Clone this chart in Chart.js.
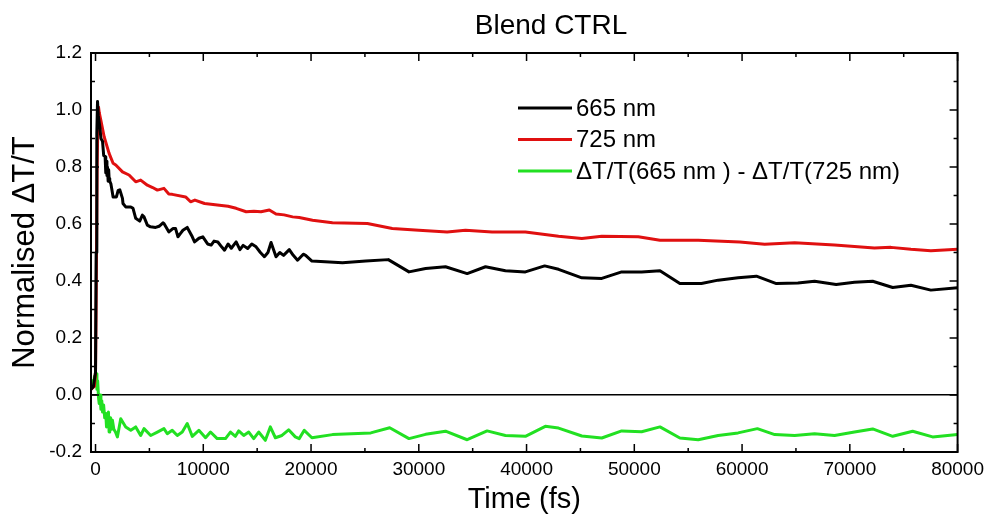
<!DOCTYPE html>
<html>
<head>
<meta charset="utf-8">
<script src="https://cdn.jsdelivr.net/npm/chart.js@4/dist/chart.umd.min.js"></script>
<style>
  html, body { margin: 0; padding: 0; background: #fff; }
  #wrap { width: 990px; height: 524px; }
</style>
</head>
<body>
<div id="wrap"><canvas id="kinetics"></canvas></div>
<script>
// [time (fs), normalised dT/T]
const trace665 = [
  [-420, 0.02], [-200, 0.03], [0, 0.08], [60, 0.5], [120, 0.92], [185, 1.03], [260, 0.98],
  [400, 0.94], [500, 0.90], [650, 0.89], [760, 0.84], [890, 0.836], [950, 0.78], [1000, 0.82],
  [1060, 0.77], [1110, 0.80], [1170, 0.75], [1220, 0.79], [1260, 0.76], [1320, 0.75],
  [1420, 0.742], [1520, 0.72], [1630, 0.695], [1720, 0.695], [1940, 0.695], [2100, 0.718],
  [2250, 0.72], [2500, 0.69], [2550, 0.672], [2800, 0.66], [3020, 0.66], [3270, 0.66],
  [3480, 0.655], [3730, 0.62], [4100, 0.61], [4350, 0.631], [4500, 0.625], [4810, 0.596],
  [5100, 0.59], [5580, 0.588], [5900, 0.592], [6260, 0.604], [6350, 0.602], [6810, 0.572],
  [7180, 0.584], [7430, 0.584], [7650, 0.555], [7890, 0.567], [8110, 0.578], [8510, 0.588],
  [8570, 0.588], [8980, 0.555], [9190, 0.537], [9600, 0.55], [9960, 0.555], [10400, 0.53],
  [10730, 0.526], [11000, 0.54], [11350, 0.537], [11700, 0.52], [11970, 0.508], [12300, 0.53],
  [12600, 0.515], [13050, 0.537], [13400, 0.51], [13700, 0.525], [14120, 0.514], [14500, 0.53],
  [14900, 0.52], [15300, 0.5], [15670, 0.485], [16000, 0.5], [16290, 0.535], [16750, 0.485],
  [17100, 0.5], [17450, 0.49], [17980, 0.51], [18350, 0.49], [18750, 0.473], [19280, 0.494],
  [19500, 0.49], [20080, 0.47], [22920, 0.464], [25080, 0.47], [27170, 0.475], [29090, 0.432],
  [30630, 0.444], [32480, 0.45], [34490, 0.426], [36190, 0.45], [38040, 0.436], [39890, 0.432],
  [41680, 0.453], [42970, 0.441], [45130, 0.411], [46980, 0.409], [48830, 0.432], [50680, 0.432],
  [52380, 0.436], [54230, 0.391], [56230, 0.391], [57780, 0.403], [59630, 0.411], [61330, 0.417],
  [63180, 0.391], [65180, 0.393], [66730, 0.399], [68730, 0.388], [70430, 0.396], [72120, 0.399],
  [73980, 0.377], [75670, 0.385], [77520, 0.368], [80000, 0.376]
];
const trace725 = [
  [-420, 0.02], [-100, 0.03], [0, 0.08], [60, 0.35], [150, 0.8], [230, 0.98], [280, 1.01],
  [350, 0.99], [490, 0.965], [800, 0.906], [1260, 0.848], [1630, 0.813], [1880, 0.807],
  [2500, 0.783], [3110, 0.772], [3730, 0.748], [4190, 0.754], [4810, 0.736], [5300, 0.728],
  [5740, 0.719], [6350, 0.725], [6800, 0.705], [7120, 0.704], [8360, 0.695], [8820, 0.678],
  [9220, 0.684], [10120, 0.672], [11500, 0.666], [12300, 0.662], [13050, 0.655], [13980, 0.643],
  [14700, 0.645], [15360, 0.643], [16130, 0.649], [16750, 0.635], [17500, 0.632], [18290, 0.625],
  [18900, 0.623], [20140, 0.613], [21990, 0.604], [25230, 0.602], [27540, 0.584], [30010, 0.578],
  [32630, 0.572], [34330, 0.578], [36800, 0.572], [39890, 0.572], [42970, 0.557], [45130, 0.549],
  [46980, 0.557], [50370, 0.555], [52380, 0.543], [55930, 0.543], [59790, 0.537], [62100, 0.529],
  [64880, 0.534], [68580, 0.526], [72280, 0.516], [73820, 0.518], [75670, 0.511], [77520, 0.506],
  [80000, 0.511]
];
const traceDiff = [
  [-420, 0.02], [-300, 0.05], [-200, 0.03], [-100, 0.065], [0, 0.04], [60, 0.075], [130, 0.02],
  [200, 0.05], [280, -0.01], [340, -0.03], [420, 0.0], [500, -0.05], [580, -0.02], [650, -0.06],
  [750, -0.035], [850, -0.08], [950, -0.065], [1020, -0.112], [1100, -0.07], [1200, -0.06],
  [1260, -0.13], [1320, -0.124], [1400, -0.08], [1500, -0.12], [1570, -0.089], [1700, -0.12],
  [1850, -0.13], [2030, -0.147], [2340, -0.083], [2800, -0.112], [3270, -0.124], [3730, -0.112],
  [4190, -0.142], [4500, -0.118], [5120, -0.142], [5740, -0.13], [6350, -0.118], [6660, -0.136],
  [7120, -0.124], [7590, -0.142], [8050, -0.13], [8510, -0.1], [8980, -0.145], [9590, -0.124],
  [10210, -0.15], [10670, -0.13], [11290, -0.153], [12060, -0.153], [12520, -0.13], [12980, -0.145],
  [13290, -0.126], [13750, -0.142], [14220, -0.13], [14680, -0.153], [15140, -0.13], [15760, -0.159],
  [16220, -0.112], [16690, -0.15], [17300, -0.142], [17920, -0.122], [18540, -0.147], [18900, -0.153],
  [19370, -0.124], [20080, -0.15], [21990, -0.139], [25540, -0.133], [27300, -0.115], [29090, -0.153],
  [30630, -0.138], [32480, -0.127], [34490, -0.157], [36340, -0.126], [38040, -0.142], [39890, -0.145],
  [41740, -0.11], [42970, -0.116], [45130, -0.144], [46980, -0.151], [48830, -0.126], [50680, -0.129],
  [52380, -0.112], [54230, -0.151], [55930, -0.157], [57780, -0.142], [59630, -0.133], [61420, -0.118],
  [63030, -0.139], [64880, -0.142], [66730, -0.136], [68580, -0.142], [70430, -0.13], [72120, -0.119],
  [73980, -0.145], [75830, -0.127], [77680, -0.147], [80000, -0.139]
];

const seriesNames = ['665 nm', '725 nm', '\u0394T/T(665 nm ) - \u0394T/T(725 nm)'];
const xTickValues = [0, 10000, 20000, 30000, 40000, 50000, 60000, 70000, 80000];
const yTickValues = [-0.2, 0, 0.2, 0.4, 0.6, 0.8, 1.0, 1.2];
const chartTitle = 'Blend CTRL';

const FONT = "Arial, 'Liberation Sans', sans-serif";
Chart.defaults.font.family = FONT;
Chart.defaults.color = '#000';

const toXY = arr => arr.map(p => ({x: p[0], y: p[1]}));

// frame, inward ticks, title and in-plot legend
const decor = {
    id: 'decor',
    afterDatasetsDraw(chart) {
        const {ctx, chartArea: a, scales: {x, y}} = chart;
        ctx.save();
        ctx.strokeStyle = '#000';
        ctx.lineWidth = 1.5;
        ctx.beginPath();
        for (let i = 0; i <= 16; i++) {
            const px = x.getPixelForValue(i * 5000);
            const len = i % 2 === 0 ? 8 : 4;
            ctx.moveTo(px, a.bottom); ctx.lineTo(px, a.bottom - len);
            ctx.moveTo(px, a.top); ctx.lineTo(px, a.top + len);
        }
        for (let i = -2; i <= 12; i++) {
            const py = y.getPixelForValue(i / 10);
            const len = i % 2 === 0 ? 8 : 4;
            ctx.moveTo(a.left, py); ctx.lineTo(a.left + len, py);
            ctx.moveTo(a.right, py); ctx.lineTo(a.right - len, py);
        }
        ctx.stroke();
        ctx.lineWidth = 2;
        ctx.strokeRect(a.left, a.top, a.right - a.left, a.bottom - a.top);

        ctx.fillStyle = '#000';
        ctx.font = '28px ' + FONT;
        ctx.textAlign = 'center';
        ctx.textBaseline = 'middle';
        ctx.fillText(chartTitle, 551, 26);

        ctx.font = '24px ' + FONT;
        ctx.textAlign = 'left';
        chart.data.datasets.forEach((ds, i) => {
            const ly = 108 + i * 31.5;
            ctx.strokeStyle = ds.borderColor;
            ctx.lineWidth = 3;
            ctx.beginPath();
            ctx.moveTo(518, ly); ctx.lineTo(572, ly);
            ctx.stroke();
            ctx.fillText(ds.label, 576, ly + 1);
        });
        ctx.restore();
    }
};

new Chart(document.getElementById('kinetics').getContext('2d'), {
    type: 'line',
    data: {
        datasets: [
            {label: seriesNames[0], data: toXY(trace665), borderColor: '#000000'},
            {label: seriesNames[1], data: toXY(trace725), borderColor: '#e01010'},
            {label: seriesNames[2], data: toXY(traceDiff), borderColor: '#22e022'},
        ],
    },
    options: {
        responsive: true,
        maintainAspectRatio: false,
        animation: false,
        events: [],
        elements: {
            point: {radius: 0},
            line: {borderWidth: 3, tension: 0, borderJoinStyle: 'round', fill: false},
        },
        layout: {padding: {top: 53, right: 31, bottom: 0, left: 0}},
        plugins: {legend: {display: false}, title: {display: false}, tooltip: {enabled: false}},
        scales: {
            x: {
                type: 'linear',
                min: -420,
                max: 80000,
                afterBuildTicks: s => { s.ticks = xTickValues.map(v => ({value: v})); },
                afterFit: s => { s.height = 72; },
                ticks: {
                    autoSkip: false, maxRotation: 0, padding: 6,
                    font: {size: 19},
                    callback: v => String(v),
                },
                grid: {display: false, drawTicks: false},
                border: {display: false},
                title: {display: true, text: 'Time (fs)', font: {size: 29}, padding: {top: 0, bottom: 7}},
            },
            y: {
                min: -0.2,
                max: 1.2,
                afterBuildTicks: s => { s.ticks = yTickValues.map(v => ({value: v})); },
                afterFit: s => { s.width = 91; },
                ticks: {
                    padding: 9,
                    font: {size: 19},
                    callback: v => Number(v).toFixed(1),
                },
                grid: {
                    drawTicks: false,
                    lineWidth: 1.5,
                    color: c => (c.tick && Math.abs(c.tick.value) < 1e-9 ? '#000' : 'rgba(0,0,0,0)'),
                },
                border: {display: false},
                title: {display: true, text: 'Normalised \u0394T/T', font: {size: 31}, padding: {top: 7, bottom: 0}},
            },
        },
    },
    plugins: [decor],
});
</script>
</body>
</html>
